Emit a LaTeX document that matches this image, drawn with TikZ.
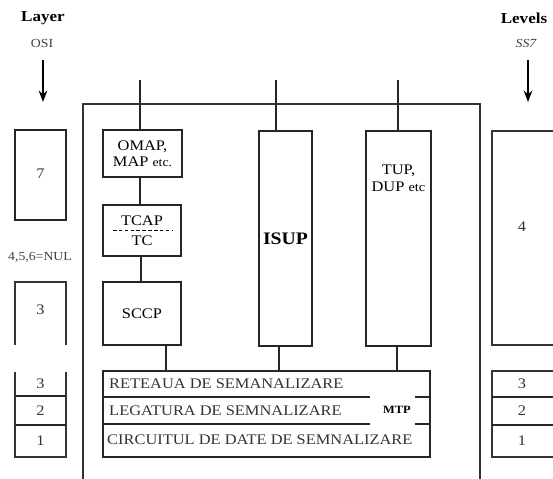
\documentclass[tikz,border=0pt]{standalone}
\usepackage{fontspec}
\setmainfont{Liberation Serif}[FakeStretch=1.12]
\usetikzlibrary{arrows.meta}
\newlength\px \setlength\px{0.03cm}

\begin{document}
\begin{tikzpicture}[x=0.03cm,y=-0.03cm,>=Stealth,
  box/.style={draw=black!85, line width=1.2pt, inner sep=0pt, align=center, font=\fontsize{12.5}{13}\selectfont},
  wire/.style={draw=black!85, line width=1.1pt},
  frame/.style={draw=black!80, line width=1.2pt},
  flow/.style={->, line width=1.5pt, shorten <=0pt},
  rowtext/.style={anchor=west, inner sep=0pt, font=\fontsize{12.5}{13}\selectfont, text=black!80},
  digit/.style={inner sep=0pt, font=\fontsize{12.5}{13}\selectfont, text=black!80},
  head/.style={inner sep=0pt, font=\fontsize{13}{14}\selectfont\bfseries},
  sub/.style={inner sep=0pt, font=\fontsize{10.5}{12}\selectfont, text=black!75}]
\useasboundingbox (0,0) rectangle (553,479);
\clip (0,0) rectangle (553,479);

% headings and arrows
\node[head] (layer) at (43,18) {Layer};
\node[sub] (osi) at (42,43) {OSI};
\node[head] (levels) at (524,18) {Levels};
\node[sub] (ss7) at (526,43) {\itshape SS7};
\coordinate (osia) at (43,60); \coordinate (osib) at (43,102);
\coordinate (ss7a) at (528,60); \coordinate (ss7b) at (528,102);
\draw[flow] (osia) -- (osib);
\draw[flow] (ss7a) -- (ss7b);

% outer frame
\draw[frame] (83,485) -- (83,104) -- (480,104) -- (480,485);

% upper protocols
\node[box, minimum width=79\px, minimum height=47\px] (omap) at (142.5,153.5) {OMAP,\\[1pt]MAP {\fontsize{10.5}{11}\selectfont etc.}};
\node[box, minimum width=78\px, minimum height=51\px] (tcap) at (142,230.5) {TCAP\\[4pt]TC};
\node[box, minimum width=78\px, minimum height=63\px] (sccp) at (142,313.5) {SCCP};
\node[box, minimum width=53\px, minimum height=215\px, font=\fontsize{15}{16}\selectfont\bfseries] (isup) at (285.5,238.5) {ISUP};
\node[box, minimum width=65\px, minimum height=215\px] (tup) at (398.5,238.5) {};
\node[box, draw=none, anchor=north] (tupname) at (398.5,164) {TUP,\\[2pt]DUP {\fontsize{11}{11}\selectfont etc}};
\draw[densely dashed, line width=0.8pt] (113,230) -- (172,230);

% MTP block
\node[box, minimum width=327\px, minimum height=86\px] (mtp) at (266.5,414) {};
\draw[wire] (103,397) -- (370,397) (415,397) -- (430,397);
\draw[wire] (103,424) -- (370,424) (415,424) -- (430,424);
\node[rowtext] (retea) at (109,384) {RETEAUA DE SEMANALIZARE};
\node[rowtext] (leg) at (109,411) {LEGATURA DE SEMNALIZARE};
\node[rowtext] (circ) at (107,440) {CIRCUITUL DE DATE DE SEMNALIZARE};
\node[inner sep=0pt, font=\fontsize{9.5}{10}\selectfont\bfseries] (mtpname) at (397,410) {MTP};

% connectors
\coordinate (omapup) at (140,80);
\coordinate (isupup) at (276,80);
\coordinate (tupup) at (398,80);
\draw[wire] (omapup) -- (omapup |- omap.north);
\draw[wire] (isupup) -- (isupup |- isup.north);
\draw[wire] (tupup) -- (tupup |- tup.north);
\draw[wire] (omap.south -| omapup) -- (tcap.north -| omapup);
\draw[wire] (tcap.south -| 141,0) -- (sccp.north -| 141,0);
\draw[wire] (sccp.south -| 166,0) -- (mtp.north -| 166,0);
\draw[wire] (isup.south -| 279,0) -- (mtp.north -| 279,0);
\draw[wire] (tup.south -| 397,0) -- (mtp.north -| 397,0);

% OSI column
\node[box, minimum width=51\px, minimum height=90\px] (osi7) at (40.5,175) {};
\node[digit] (osi7n) at (40.5,174) {7};
\node[inner sep=0pt, font=\fontsize{10.5}{10}\selectfont, text=black!75] (nul) at (40,257) {4,5,6=NUL};
\draw[frame] (15,345) -- (15,282) -- (66,282) -- (66,345);
\node[digit] (osi3) at (40.5,310) {3};
\draw[frame] (15,372) -- (15,457) -- (66,457) -- (66,372);
\draw[wire] (15,396) -- (66,396) (15,425) -- (66,425);
\node[digit] (osil3) at (40.5,384) {3};
\node[digit] (osil2) at (40.5,411) {2};
\node[digit] (osil1) at (40.5,441) {1};

% SS7 column
\draw[frame] (570,131) -- (492,131) -- (492,345) -- (570,345);
\node[digit] (ss74) at (522,227) {4};
\draw[frame] (570,371) -- (492,371) -- (492,457) -- (570,457);
\draw[wire] (492,397) -- (570,397) (492,425) -- (570,425);
\node[digit] (ss73) at (522,384) {3};
\node[digit] (ss72) at (522,411) {2};
\node[digit] (ss71) at (522,441) {1};
\end{tikzpicture}
\end{document}
